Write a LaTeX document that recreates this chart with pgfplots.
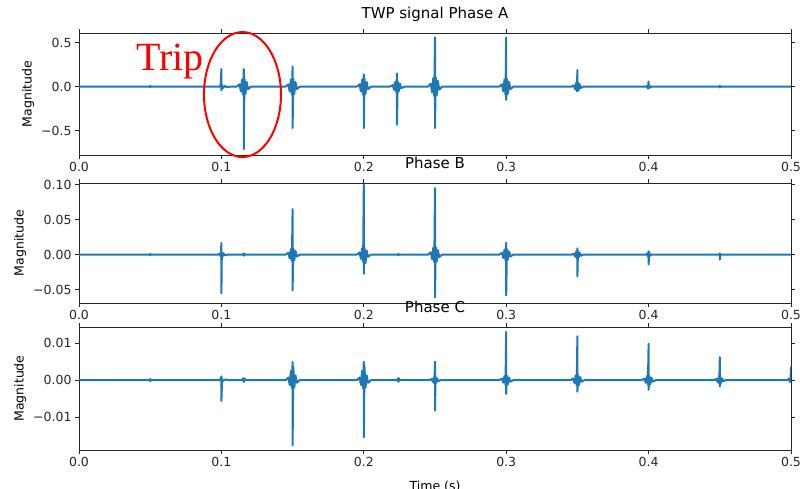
\documentclass[border=0pt]{standalone}
\usepackage{fontspec}
\setmainfont{DejaVu Sans}
\newfontfamily\tripfont{Liberation Serif}
\usepackage{pgfplots}
\pgfplotsset{compat=1.18}
\definecolor{mplblue}{HTML}{1F77B4}
\pgfplotsset{
  panel/.style={
    scale only axis, width=712pt,
    xmin=0, xmax=0.5,
    axis line style={line width=0.8pt, black!85},
    tick align=outside, major tick length=4pt,
    tick style={line width=0.8pt, black!85},
    xtick={0,0.1,0.2,0.3,0.4,0.5},
    xticklabels={0.0,0.1,0.2,0.3,0.4,0.5},
    scaled y ticks=false,
    ticklabel style={font=\fontsize{12.5}{15}\selectfont, text=black!85},
    ylabel={Magnitude},
    ylabel style={font=\fontsize{12.5}{15}\selectfont},
    title style={font=\fontsize{15}{18}\selectfont, anchor=base, at={(0.5,1)}, yshift=9pt},
  },
  sig/.style={mplblue, line width=2pt, line join=round, mark=none},
}
\begin{document}
\begin{tikzpicture}
% Phase A
\begin{axis}[panel, height=122pt, at={(79pt,-33pt)}, anchor=north west,
  ymin=-0.776, ymax=0.61, clip=false,
  ytick={-0.5,0,0.5}, yticklabels={−0.5,0.0,0.5},
  title={TWP signal Phase A}]
\addplot[sig] coordinates {
(0,0)
(0.0495,0)(0.05,0.01)(0.05,-0.006)(0.0505,0)
(0.0985,0)(0.0995,0.015)(0.1,0.20)(0.1,-0.04)(0.1005,0.02)(0.101,-0.015)(0.1025,0.008)(0.104,-0.005)(0.106,0)
(0.1107,0)(0.1127,0.027)(0.1137,-0.054)(0.1145,0.081)(0.1152,-0.09)(0.1157,0.20)(0.1157,-0.71)(0.1162,0.09)(0.1169,-0.081)(0.1177,0.054)(0.1187,-0.027)(0.1207,0)
(0.145,0)(0.147,0.027)(0.148,-0.054)(0.1488,0.081)(0.1495,-0.09)(0.15,0.23)(0.15,-0.47)(0.1505,0.09)(0.1512,-0.081)(0.152,0.054)(0.153,-0.027)(0.155,0)
(0.195,0)(0.197,0.027)(0.198,-0.054)(0.1988,0.081)(0.1995,-0.09)(0.2,0.14)(0.2,-0.47)(0.2005,0.09)(0.2012,-0.081)(0.202,0.054)(0.203,-0.027)(0.205,0)
(0.2183,0)(0.2203,0.018)(0.2213,-0.036)(0.2221,0.054)(0.2228,-0.06)(0.2233,0.15)(0.2233,-0.43)(0.2238,0.06)(0.2245,-0.054)(0.2253,0.036)(0.2263,-0.018)(0.2283,0)
(0.245,0)(0.247,0.033)(0.248,-0.066)(0.2488,0.099)(0.2495,-0.11)(0.25,0.56)(0.25,-0.47)(0.2505,0.11)(0.2512,-0.099)(0.252,0.066)(0.253,-0.033)(0.255,0)
(0.295,0)(0.297,0.027)(0.298,-0.054)(0.2988,0.081)(0.2995,-0.09)(0.3,0.56)(0.3,-0.15)(0.3005,0.09)(0.3012,-0.081)(0.302,0.054)(0.303,-0.027)(0.305,0)
(0.346,0)(0.3475,0.015)(0.3485,-0.03)(0.3492,0.045)(0.3496,-0.05)(0.35,0.19)(0.35,-0.05)(0.3504,0.05)(0.3508,-0.045)(0.3515,0.03)(0.3525,-0.015)(0.354,0)
(0.398,0)(0.399,0.01)(0.3995,-0.02)(0.4,0.06)(0.4,-0.02)(0.4005,0.02)(0.401,-0.01)(0.402,0)
(0.4495,0)(0.45,0.012)(0.45,-0.008)(0.4505,0)
(0.5,0)
};
\draw[red, line width=2pt] (axis cs:0.1148,-0.089) ellipse [x radius=38.5pt, y radius=62.5pt];
\end{axis}
% Phase B
\begin{axis}[panel, height=120pt, at={(79pt,-183pt)}, anchor=north west,
  ymin=-0.069, ymax=0.1023,
  ytick={-0.05,0,0.05,0.1}, yticklabels={−0.05,0.00,0.05,0.10},
  title={Phase B}]
\addplot[sig] coordinates {
(0,0)
(0.0495,0)(0.05,0.001)(0.05,-0.001)(0.0505,0)
(0.097,0)(0.0985,0.001)(0.0993,-0.002)(0.0997,0.003)(0.1,0.0166)(0.1,-0.055)(0.1003,0.003)(0.1007,-0.003)(0.1015,0.002)(0.1025,-0.001)(0.104,0)
(0.1147,0)(0.1154,0.0015)(0.1157,-0.0015)(0.116,0.0015)(0.1167,0)
(0.145,0)(0.147,0.0027)(0.148,-0.0054)(0.1488,0.0081)(0.1495,-0.009)(0.15,0.065)(0.15,-0.051)(0.1505,0.009)(0.1512,-0.0081)(0.152,0.0054)(0.153,-0.0027)(0.155,0)
(0.195,0)(0.197,0.003)(0.198,-0.006)(0.1988,0.009)(0.1995,-0.01)(0.2,0.100)(0.2,-0.027)(0.2005,0.01)(0.2012,-0.012)(0.202,0.006)(0.203,-0.003)(0.205,0)
(0.2238,0)(0.2243,0.001)(0.2243,-0.001)(0.2248,0)
(0.245,0)(0.247,0.0033)(0.248,-0.0066)(0.2488,0.0099)(0.2495,-0.011)(0.25,0.095)(0.25,-0.061)(0.2505,0.011)(0.2512,-0.0099)(0.252,0.0066)(0.253,-0.0033)(0.255,0)
(0.295,0)(0.297,0.0024)(0.298,-0.0048)(0.2988,0.0072)(0.2995,-0.008)(0.3,0.017)(0.3,-0.058)(0.3005,0.008)(0.3012,-0.0072)(0.302,0.0048)(0.303,-0.0024)(0.305,0)
(0.346,0)(0.3475,0.0015)(0.3485,-0.003)(0.3492,0.0045)(0.3496,-0.005)(0.35,0.009)(0.35,-0.031)(0.3504,0.005)(0.3508,-0.0045)(0.3515,0.003)(0.3525,-0.0015)(0.354,0)
(0.398,0)(0.399,0.0015)(0.3995,-0.003)(0.4,0.005)(0.4,-0.014)(0.4005,0.003)(0.401,-0.0015)(0.402,0)
(0.4495,0)(0.45,0.002)(0.45,-0.007)(0.4505,0)
(0.5,0)
};
\end{axis}
% Phase C
\begin{axis}[panel, height=123pt, at={(79pt,-327pt)}, anchor=north west,
  ymin=-0.0188, ymax=0.0143,
  ytick={-0.01,0,0.01}, yticklabels={−0.01,0.00,0.01},
  title={Phase C}, xlabel={Time (s)},
  xlabel style={font=\fontsize{12.5}{15}\selectfont, yshift=-7pt}]
\addplot[sig] coordinates {
(0,0)
(0.0495,0)(0.05,0.0003)(0.05,-0.0003)(0.0505,0)
(0.0985,0)(0.0995,0.0004)(0.1,0.001)(0.1,-0.0056)(0.1005,0.0004)(0.101,-0.0003)(0.103,0.0002)(0.105,0)
(0.1145,0)(0.1152,0.0005)(0.1157,-0.0005)(0.1162,0.0005)(0.1169,0)
(0.145,0)(0.147,0.0007)(0.148,-0.0013)(0.1488,0.0025)(0.1495,-0.0022)(0.15,0.0049)(0.15,-0.0175)(0.1505,0.0035)(0.1512,-0.002)(0.152,0.0013)(0.153,-0.0007)(0.155,0)
(0.195,0)(0.197,0.0007)(0.198,-0.0013)(0.1988,0.0025)(0.1995,-0.0022)(0.2,0.0049)(0.2,-0.0154)(0.2005,0.0035)(0.2012,-0.002)(0.202,0.0013)(0.203,-0.0007)(0.205,0)
(0.2233,0)(0.2240,0.0005)(0.2243,-0.0005)(0.2246,0.0005)(0.2253,0)
(0.246,0)(0.2475,0.0003)(0.2485,-0.0005)(0.2492,0.0008)(0.2496,-0.0009)(0.25,0.005)(0.25,-0.0082)(0.2504,0.0009)(0.2508,-0.0008)(0.2515,0.0005)(0.2525,-0.0003)(0.254,0)
(0.295,0)(0.297,0.0004)(0.298,-0.0007)(0.2988,0.0011)(0.2995,-0.0012)(0.3,0.013)(0.3,-0.0037)(0.3005,0.0012)(0.3012,-0.0011)(0.302,0.0007)(0.303,-0.0004)(0.305,0)
(0.345,0)(0.347,0.0004)(0.348,-0.0008)(0.3488,0.0013)(0.3495,-0.0014)(0.35,0.0118)(0.35,-0.0031)(0.3505,0.0014)(0.3512,-0.0013)(0.352,0.0008)(0.353,-0.0004)(0.355,0)
(0.395,0)(0.397,0.0004)(0.398,-0.0007)(0.3988,0.0011)(0.3995,-0.0012)(0.4,0.0098)(0.4,-0.0026)(0.4005,0.0012)(0.4012,-0.0011)(0.402,0.0007)(0.403,-0.0004)(0.405,0)
(0.446,0)(0.4475,0.0003)(0.4485,-0.0005)(0.4492,0.0008)(0.4496,-0.0009)(0.45,0.0062)(0.45,-0.0017)(0.4504,0.0009)(0.4508,-0.0008)(0.4515,0.0005)(0.4525,-0.0003)(0.454,0)
(0.497,0)(0.4985,0.0003)(0.4993,-0.0005)(0.4997,0.0006)(0.5,0.0035)(0.5,-0.0005)
};
\end{axis}
\node[anchor=base, text=red, font=\tripfont\fontsize{40}{44}\selectfont, inner sep=0pt] at (170pt,-70pt) {Trip};
\pgfresetboundingbox
\useasboundingbox (0,0) rectangle (800pt,-488pt);
\end{tikzpicture}
\end{document}
